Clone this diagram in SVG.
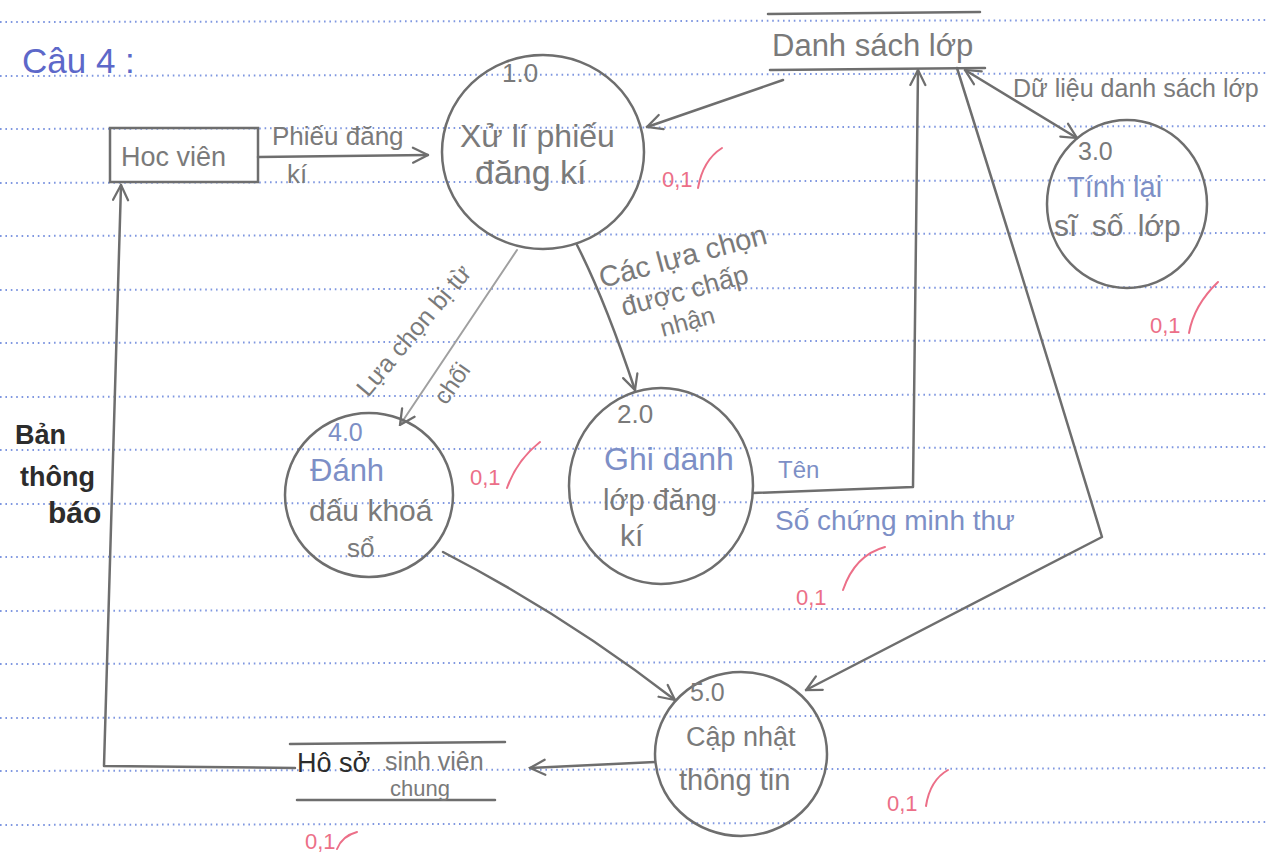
<svg xmlns="http://www.w3.org/2000/svg" width="1267" height="854" viewBox="0 0 1267 854">
<defs>
<style>
.rule{stroke:#7f97e0;stroke-width:2;stroke-dasharray:1.6 3.8;fill:none}
.node{fill:none;stroke:#6e6e6e;stroke-width:2.5}
.ln{fill:none;stroke:#6e6e6e;stroke-width:2.5;stroke-linecap:round;stroke-linejoin:round}
.lt{stroke:#a0a0a0;stroke-width:2}
.t{font-family:"Liberation Sans","DejaVu Sans",sans-serif;fill:#7a7a7a}
.bl{fill:#7d8fc6}
.k{fill:#2c2c2c}
.red{font-family:"Liberation Sans","DejaVu Sans",sans-serif;fill:#ec6f88}
.chk{fill:none;stroke:#ec6f88;stroke-width:2;stroke-linecap:round}
</style>
<marker id="ah" viewBox="0 0 12 12" refX="11" refY="6" markerWidth="18" markerHeight="18" markerUnits="userSpaceOnUse" orient="auto-start-reverse">
<path d="M1,1 L11,6 L1,11" fill="none" stroke="#6e6e6e" stroke-width="1.5" stroke-linecap="round"/>
</marker>
</defs>
<rect width="1267" height="854" fill="#ffffff"/>
<g id="ruled-lines">
<line class="rule" x1="0" y1="22" x2="1267" y2="20"/>
<line class="rule" x1="0" y1="76" x2="1267" y2="73"/>
<line class="rule" x1="0" y1="129" x2="1267" y2="126"/>
<line class="rule" x1="0" y1="183" x2="1267" y2="180"/>
<line class="rule" x1="0" y1="236" x2="1267" y2="233"/>
<line class="rule" x1="0" y1="290" x2="1267" y2="287"/>
<line class="rule" x1="0" y1="343" x2="1267" y2="340"/>
<line class="rule" x1="0" y1="397" x2="1267" y2="394"/>
<line class="rule" x1="0" y1="450" x2="1267" y2="447"/>
<line class="rule" x1="0" y1="504" x2="1267" y2="501"/>
<line class="rule" x1="0" y1="557" x2="1267" y2="554"/>
<line class="rule" x1="0" y1="611" x2="1267" y2="608"/>
<line class="rule" x1="0" y1="664" x2="1267" y2="661"/>
<line class="rule" x1="0" y1="718" x2="1267" y2="715"/>
<line class="rule" x1="0" y1="771" x2="1267" y2="768"/>
<line class="rule" x1="0" y1="825" x2="1267" y2="822"/>
</g>
<text x="22" y="73" font-family="Liberation Sans, DejaVu Sans, sans-serif" font-size="35" fill="#5d68c9">Câu 4 :</text>

<g id="connectors">
<path class="ln" d="M258,157 L428,155" marker-end="url(#ah)"/>
<path class="ln" d="M783,80 L647,127" marker-end="url(#ah)"/>
<path class="ln" d="M577,245 Q605,300 635,390" marker-end="url(#ah)"/>
<path class="ln lt" d="M517,250 L400,425" marker-end="url(#ah)"/>
<path class="ln" d="M753,493 L913,487 L918,70" marker-end="url(#ah)"/>
<path class="ln" d="M965,70 L1077,138" marker-start="url(#ah)" marker-end="url(#ah)"/>
<path class="ln" d="M957,68 Q1030,300 1102,537 L806,690" marker-end="url(#ah)"/>
<path class="ln" d="M443,552 Q565,615 675,700" marker-end="url(#ah)"/>
<path class="ln" d="M655,762 L530,768" marker-end="url(#ah)"/>
<path class="ln" d="M295,768 L104,766 L121,185" marker-end="url(#ah)"/>
<text class="t" x="272" y="145" font-size="26">Phiếu đăng</text>
<text class="t" x="287" y="183" font-size="26">kí</text>
<text class="t" x="1013" y="97" font-size="25">Dữ liệu danh sách lớp</text>
<text class="t bl" x="778" y="478" font-size="24">Tên</text>
<text class="t bl" x="775" y="530" font-size="28">Số chứng minh thư</text>
<g transform="translate(602,288) rotate(-15)">
<text class="t" x="0" y="0" font-size="29">Các lựa chọn</text>
<text class="t" x="14" y="33" font-size="27">được chấp</text>
<text class="t" x="46" y="63" font-size="25">nhận</text>
</g>
<text class="t" font-size="25" transform="translate(368,398) rotate(-50)">Lựa chọn bị từ</text>
<text class="t" font-size="24" transform="translate(446,406) rotate(-55)">chối</text>
<text class="t k" x="15" y="444" font-size="27" font-weight="bold">Bản</text>
<text class="t k" x="20" y="486" font-size="27" font-weight="bold">thông</text>
<text class="t k" x="48" y="523" font-size="30" font-weight="bold">báo</text>
</g>

<g id="hoc-vien">
<rect class="node" x="110" y="128" width="148" height="54"/>
<text class="t" x="121" y="166" font-size="27">Hoc viên</text>
</g>

<g id="p1">
<ellipse class="node" cx="543" cy="152" rx="101" ry="97"/>
<text class="t" x="502" y="82" font-size="26">1.0</text>
<text class="t" x="460" y="147" font-size="32">Xử lí phiếu</text>
<text class="t" x="475" y="184" font-size="34">đăng kí</text>
</g>

<g id="danh-sach-lop">
<path class="ln" d="M768,14 L980,12"/>
<path class="ln" d="M770,70 L985,68"/>
<text class="t" x="772" y="56" font-size="31">Danh sách lớp</text>
</g>

<g id="p3">
<ellipse class="node" cx="1127" cy="204" rx="80" ry="84"/>
<text class="t" x="1078" y="160" font-size="25">3.0</text>
<text class="t bl" x="1067" y="197" font-size="29">Tính lại</text>
<text class="t" x="1054" y="236" font-size="30" word-spacing="6">sĩ số lớp</text>
</g>

<g id="p2">
<ellipse class="node" cx="661" cy="486" rx="92" ry="98"/>
<text class="t" x="617" y="423" font-size="26">2.0</text>
<text class="t bl" x="604" y="470" font-size="32">Ghi danh</text>
<text class="t" x="603" y="510" font-size="29">lớp đăng</text>
<text class="t" x="620" y="546" font-size="30">kí</text>
</g>

<g id="p4">
<ellipse class="node" cx="369" cy="495" rx="84" ry="82"/>
<text class="t bl" x="328" y="441" font-size="25">4.0</text>
<text class="t bl" x="310" y="481" font-size="31">Đánh</text>
<text class="t" x="309" y="521" font-size="30">dấu khoá</text>
<text class="t" x="347" y="557" font-size="26">sổ</text>
</g>

<g id="p5">
<ellipse class="node" cx="741" cy="754" rx="86" ry="82"/>
<text class="t" x="690" y="701" font-size="25">5.0</text>
<text class="t" x="686" y="746" font-size="27">Cập nhật</text>
<text class="t" x="679" y="790" font-size="29">thông tin</text>
</g>

<g id="ho-so-sinh-vien">
<path class="ln" d="M290,744 L505,742"/>
<path class="ln" d="M297,800 L495,800"/>
<text class="t k" x="297" y="772" font-size="27">Hô sở</text>
<text class="t" x="385" y="770" font-size="25">sinh viên</text>
<text class="t" x="390" y="796" font-size="22">chung</text>
</g>

<g id="grades">
<text class="red" x="662" y="187" font-size="22">0,1</text>
<path class="chk" d="M698,188 Q703,160 722,148"/>
<text class="red" x="1150" y="333" font-size="22">0,1</text>
<path class="chk" d="M1189,333 Q1194,305 1218,282"/>
<text class="red" x="470" y="485" font-size="22">0,1</text>
<path class="chk" d="M507,488 Q517,460 540,442"/>
<text class="red" x="796" y="605" font-size="22">0,1</text>
<path class="chk" d="M843,590 Q855,555 885,547"/>
<text class="red" x="887" y="811" font-size="22">0,1</text>
<path class="chk" d="M926,806 Q930,780 948,770"/>
<text class="red" x="305" y="849" font-size="22">0,1</text>
<path class="chk" d="M337,849 Q342,836 357,832"/>
</g>
</svg>
